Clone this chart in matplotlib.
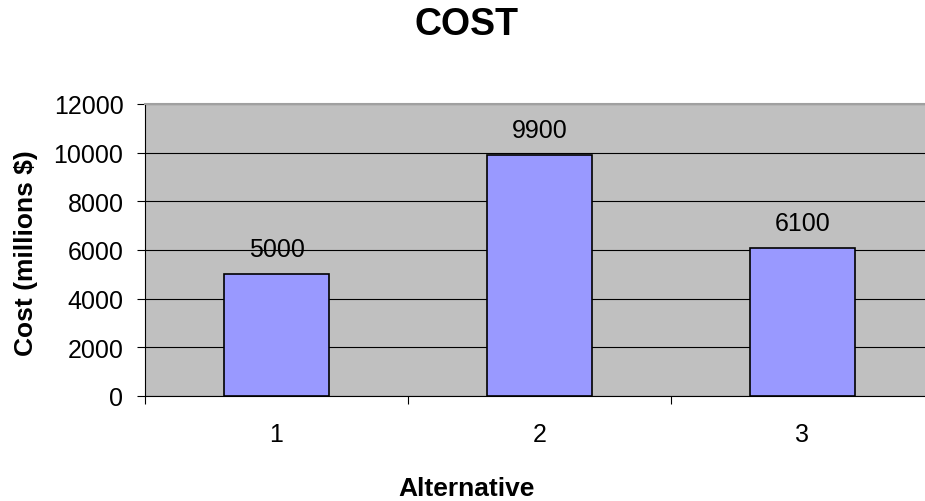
import numpy as np
import matplotlib.pyplot as plt

plt.rcParams['font.family'] = ['Liberation Sans', 'DejaVu Sans']

# chart data
alternatives = ['1', '2', '3']
costs = [5000, 9900, 6100]
y_ticks = [0, 2000, 4000, 6000, 8000, 10000, 12000]

W, H = 925, 502
fig = plt.figure(figsize=(W / 100, H / 100), dpi=100)
ax = fig.add_axes([145 / W, 1 - 397 / H, 789 / W, 292 / H])
ax.set_facecolor('#C0C0C0')

x = np.arange(len(alternatives))
ax.bar(x, costs, width=0.4, color='#9999FF', edgecolor='black', linewidth=1.2, zorder=3)

# value labels above bars
for xi, c in zip(x, costs):
    ax.annotate(str(c), (xi, c), xytext=(0, 13), textcoords='offset points',
                ha='center', va='baseline', fontsize=18, zorder=4)

ax.set_xlim(-0.5, len(alternatives) - 0.5)
ax.set_ylim(0, 12000)
ax.set_yticks(y_ticks)
ax.set_yticklabels([str(t) for t in y_ticks], fontsize=18)
ax.yaxis.grid(True, color='black', linewidth=0.8, zorder=1)
ax.set_axisbelow(True)

# category labels at centres, tick marks at the boundaries
ax.set_xticks(x)
ax.set_xticklabels(alternatives, fontsize=18)
ax.tick_params(axis='x', which='major', length=0, pad=19)
ax.set_xticks(np.arange(-0.5, len(alternatives) + 0.5, 1.0), minor=True)
ax.tick_params(axis='x', which='minor', length=5.5, width=0.8, direction='out')
ax.tick_params(axis='y', length=5.5, width=0.8, direction='out', pad=10)

ax.spines['left'].set_color('black')
ax.spines['left'].set_linewidth(0.8)
ax.spines['bottom'].set_color('black')
ax.spines['bottom'].set_linewidth(0.8)
ax.spines['top'].set_color('#A0A0A0')
ax.spines['top'].set_linewidth(1.5)
ax.spines['right'].set_visible(False)

fig.text(26 / W, 1 - 253 / H, 'Cost (millions $)', rotation=90, ha='center', va='center',
         fontsize=19, fontweight='bold')
fig.text(467 / W, 1 - 496 / H, 'Alternative', ha='center', va='baseline',
         fontsize=19, fontweight='bold')
fig.text(467 / W, 1 - 35 / H, 'COST', ha='center', va='baseline',
         fontsize=27, fontweight='bold')

fig.savefig('out.png', dpi=100)
